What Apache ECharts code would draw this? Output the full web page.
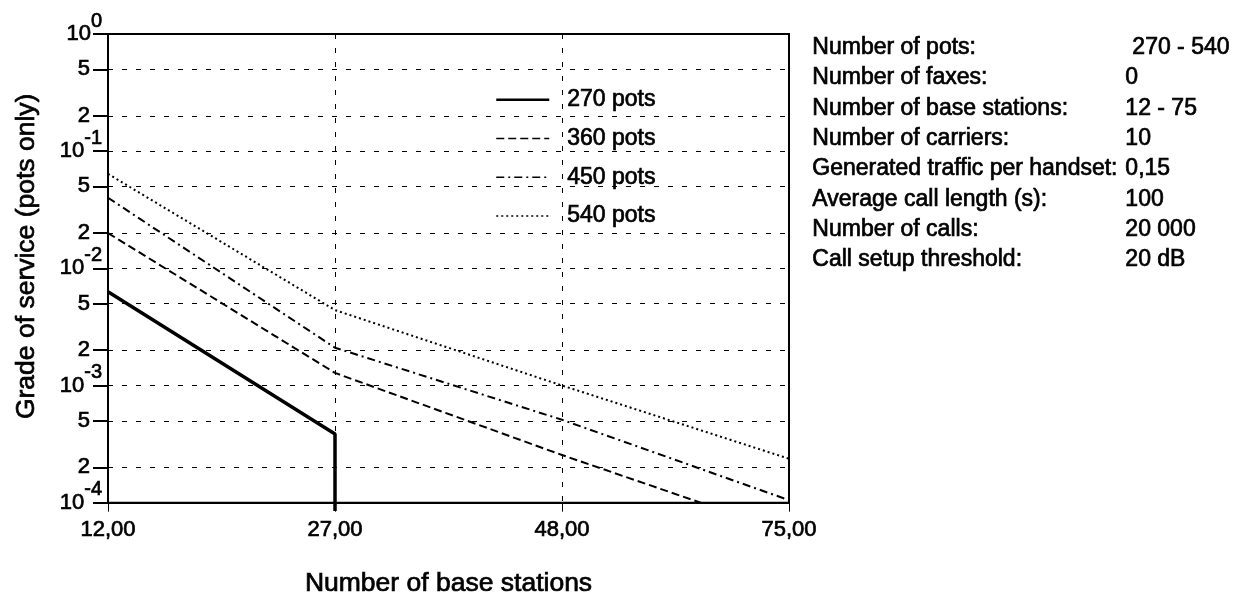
<!DOCTYPE html>
<html>
<head>
<meta charset="utf-8">
<script src="https://cdn.jsdelivr.net/npm/echarts@6/dist/echarts.min.js"></script>
<style>
html,body{margin:0;padding:0;background:#fff;}
#chart{width:1247px;height:603px;}
</style>
</head>
<body>
<div id="chart"></div>
<script>
// ---- data ----
var categories = ['12,00', '27,00', '48,00', '75,00'];
var pots270X = ['12,00', '27,00', '27,00'];
var pots270 = [6.3e-3, 3.85e-4, 8.5e-5];
var pots360 = [2.0e-2, 1.28e-3, 2.55e-4, 5.5e-5];
var pots450 = [4.0e-2, 2.1e-3, 5.1e-4, 1.05e-4];
var pots540 = [6.4e-2, 4.4e-3, 1.0e-3, 2.37e-4];
var seriesNames = ['270 pots', '360 pots', '450 pots', '540 pots'];
var yTickValues = [1e-4, 2e-4, 5e-4, 1e-3, 2e-3, 5e-3, 1e-2, 2e-2, 5e-2, 1e-1, 2e-1, 5e-1, 1];
var infoLabels = ['Number of pots:', 'Number of faxes:', 'Number of base stations:', 'Number of carriers:',
  'Generated traffic per handset:', 'Average call length (s):', 'Number of calls:', 'Call setup threshold:'];
var infoValues = ['270 - 540', '0', '12 - 75', '10', '0,15', '100', '20 000', '20 dB'];
var xAxisTitle = 'Number of base stations';
var yAxisTitle = 'Grade of service (pots only)';

// ---- chart ----
var FONT = '"Liberation Sans", Arial, Helvetica, sans-serif';
var BW = 0.7; // slight stroke to match the heavier scanned glyphs
var chart = echarts.init(document.getElementById('chart'), null, {renderer: 'canvas'});

function yLabel(v) {
  var lg = Math.log10(v);
  var e = Math.round(lg);
  if (Math.abs(lg - e) < 1e-6) {
    return '{b|10}{sup|' + e + '}';
  }
  var f = Math.floor(lg + 1e-9);
  var m = Math.round(v / Math.pow(10, f));
  return '{m|' + m + '}';
}

var graphics = [];
infoLabels.forEach(function (t, i) {
  graphics.push({
    type: 'text', left: 812, top: 36 + i * 30.3,
    style: {text: t, font: '23px ' + FONT, fill: '#000', stroke: '#000', lineWidth: BW}
  });
  graphics.push({
    type: 'text', left: i === 0 ? 1132 : 1125, top: 36 + i * 30.3,
    style: {text: infoValues[i], font: '23px ' + FONT, fill: '#000', stroke: '#000', lineWidth: BW}
  });
});

var lineStyles = [
  {type: 'solid', width: 3.5, color: '#000'},
  {type: [8, 4], width: 2, color: '#000'},
  {type: [8, 4, 2, 4], width: 2, color: '#000'},
  {type: [2, 3], width: 2, color: '#000'}
];

var txt = function (size) {
  return {fontSize: size, fontFamily: FONT, color: '#000', textBorderColor: '#000', textBorderWidth: BW};
};

var option = {
  backgroundColor: '#fff',
  animation: false,
  color: ['#000', '#000', '#000', '#000'],
  textStyle: {fontFamily: FONT, color: '#000'},
  grid: {
    left: 108, right: 458, top: 34, bottom: 93,
    show: true, borderColor: '#000', borderWidth: 2, backgroundColor: 'transparent'
  },
  legend: {
    orient: 'vertical', left: 495, top: 88, padding: 0,
    itemWidth: 53, itemHeight: 14, itemGap: 15,
    itemStyle: {opacity: 0},
    textStyle: Object.assign(txt(23), {padding: [0, 0, 0, 13]}),
    data: seriesNames.map(function (n, i) {
      return {name: n, itemStyle: {opacity: 0}, lineStyle: {width: i === 0 ? 2.5 : 1.5}};
    })
  },
  xAxis: {
    type: 'category', data: categories, boundaryGap: false,
    name: xAxisTitle, nameLocation: 'middle', nameGap: 68,
    nameTextStyle: txt(26.5),
    axisLine: {lineStyle: {color: '#000', width: 2}},
    axisTick: {show: true, length: 9, lineStyle: {color: '#000', width: 1}},
    axisLabel: Object.assign(txt(22), {margin: 16}),
    splitLine: {show: true, lineStyle: {color: '#000', width: 1, type: [5, 9]}}
  },
  yAxis: {
    type: 'log', logBase: 10, min: 1e-4, max: 1,
    name: yAxisTitle, nameLocation: 'middle', nameGap: 68,
    nameTextStyle: Object.assign(txt(26.5), {padding: [0, 0, 0, 24]}),
    axisLine: {show: true, lineStyle: {color: '#000', width: 2}},
    axisTick: {show: true, length: 15, customValues: yTickValues, lineStyle: {color: '#000', width: 2}},
    axisLabel: {
      customValues: yTickValues,
      formatter: yLabel, margin: 6,
      rich: {
        b: Object.assign(txt(22), {lineHeight: 22}),
        sup: Object.assign(txt(20), {lineHeight: 20, padding: [0, 0, 26, 0]}),
        m: Object.assign(txt(22), {lineHeight: 22, padding: [0, 12, 0, 0]})
      }
    },
    splitLine: {show: true, lineStyle: {color: '#000', width: 1, type: [5, 9]}}
  },
  graphic: graphics,
  series: [
    {
      name: seriesNames[0], type: 'line', symbol: 'none', clip: false,
      data: pots270X.map(function (c, i) { return [c, pots270[i]]; }),
      lineStyle: lineStyles[0]
    },
    {name: seriesNames[1], type: 'line', symbol: 'none', data: pots360, lineStyle: lineStyles[1]},
    {name: seriesNames[2], type: 'line', symbol: 'none', data: pots450, lineStyle: lineStyles[2]},
    {name: seriesNames[3], type: 'line', symbol: 'none', data: pots540, lineStyle: lineStyles[3]}
  ]
};
chart.setOption(option);
</script>
</body>
</html>
